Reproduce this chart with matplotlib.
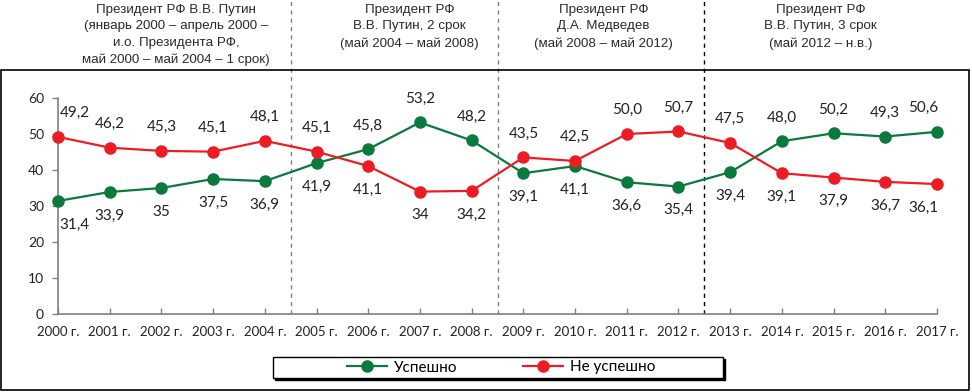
import matplotlib.pyplot as plt
from matplotlib.patches import Rectangle
from matplotlib.lines import Line2D
from matplotlib.transforms import blended_transform_factory

years = list(range(2000, 2018))
success = [31.4, 33.9, 35, 37.5, 36.9, 41.9, 45.8, 53.2, 48.2, 39.1,
           41.1, 36.6, 35.4, 39.4, 48.0, 50.2, 49.3, 50.6]
fail = [49.2, 46.2, 45.3, 45.1, 48.1, 45.1, 41.1, 34, 34.2, 43.5,
        42.5, 50.0, 50.7, 47.5, 39.1, 37.9, 36.7, 36.1]
xlabels = [f"{y} г." for y in years]

terms = [
    "Президент РФ В.В. Путин\n(январь 2000 – апрель 2000 –\nи.о. Президента РФ,\nмай 2000 – май 2004 – 1 срок)",
    "Президент РФ\nВ.В. Путин, 2 срок\n(май 2004 – май 2008)",
    "Президент РФ\nД.А. Медведев\n(май 2008 – май 2012)",
    "Президент РФ\nВ.В. Путин, 3 срок\n(май 2012 – н.в.)",
]
term_x = [2002.28, 2006.8, 2010.55, 2014.75]
borders = [2004.5, 2008.5, 2012.5]
border_colors = ['#808080', '#808080', 'black']

GREEN = '#0a7a3c'
RED = '#ec1c24'
label_font = ['Lato', 'DejaVu Sans']
head_font = ['Liberation Sans', 'DejaVu Sans']

W, H = 972, 392
fig = plt.figure(figsize=(W / 100, H / 100), dpi=100)
ax = fig.add_axes([58 / W, 1 - 314 / H, 879 / W, 216 / H])

ax.plot(years, success, color=GREEN, lw=1.6, marker='o', ms=8, clip_on=False, zorder=3)
ax.plot(years, fail, color=RED, lw=1.6, marker='o', ms=8, clip_on=False, zorder=4)


def fmt(v):
    if isinstance(v, int):
        return str(v)
    return f"{v:.1f}".replace('.', ',')


# data labels: the upper series above, the lower one below
for i, y in enumerate(years):
    dx = 0
    if i == 0:
        dx = 12
    elif i == len(years) - 1:
        dx = -10
    for v, other in ((success[i], fail[i]), (fail[i], success[i])):
        dy = 17 if v > other else -17
        ax.annotate(fmt(v), (y, v), xytext=(dx, dy), textcoords='offset points',
                    ha='center', va='center', fontsize=11, color='#222222',
                    family=label_font)

ax.set_xlim(2000, 2017)
ax.set_ylim(0, 60)
ax.set_yticks(range(0, 61, 10))
ax.set_xticks(years)
ax.set_xticklabels(xlabels, family=label_font, fontsize=9.5, color='#222222')
for t in ax.get_yticklabels():
    t.set_family(label_font)
    t.set_fontsize(10)
    t.set_color('#222222')
ax.tick_params(axis='y', direction='out', length=4, width=1, color='#808080', pad=6)
ax.tick_params(axis='x', direction='in', length=4, width=1, color='#808080', pad=9)
for s in ('top', 'right'):
    ax.spines[s].set_visible(False)
for s in ('left', 'bottom'):
    ax.spines[s].set_color('#808080')
    ax.spines[s].set_linewidth(1.2)

# term borders reaching up through the header
for b, c in zip(borders, border_colors):
    ax.axvline(b, ymin=0, ymax=314 / 216, color=c, lw=1, ls=(0, (3, 3)),
               clip_on=False, zorder=1)

tr = blended_transform_factory(ax.transData, fig.transFigure)
for txt, x in zip(terms, term_x):
    fig.text(x, 1 - 4 / H, txt, transform=tr, ha='center', va='top',
             fontsize=9.6, family=head_font, color='#2a2a2a', linespacing=1.5)

# chart frame
fig.add_artist(Rectangle((1 / W, 1 - 390 / H), 968 / W, 320 / H,
                         transform=fig.transFigure, fill=False, ec='black', lw=1.2))

# legend box with shadow
fig.add_artist(Rectangle((275 / W, 1 - 380 / H), 450 / W, 21 / H,
                         transform=fig.transFigure, fc='black', ec='black', lw=1))
fig.add_artist(Rectangle((273 / W, 1 - 378 / H), 450 / W, 21 / H,
                         transform=fig.transFigure, fc='white', ec='black', lw=1))
handles = [Line2D([], [], color=GREEN, lw=1.6, marker='o', ms=8),
           Line2D([], [], color=RED, lw=1.6, marker='o', ms=8)]
leg = fig.legend(handles, ['Успешно', 'Не успешно'], loc='center',
                 bbox_to_anchor=(501 / W, 1 - 367.5 / H), ncol=2, frameon=False,
                 prop={'family': label_font, 'size': 11}, handlelength=2.6,
                 handletextpad=0.45, columnspacing=4.3, borderpad=0)

fig.savefig('out.png', dpi=100)
